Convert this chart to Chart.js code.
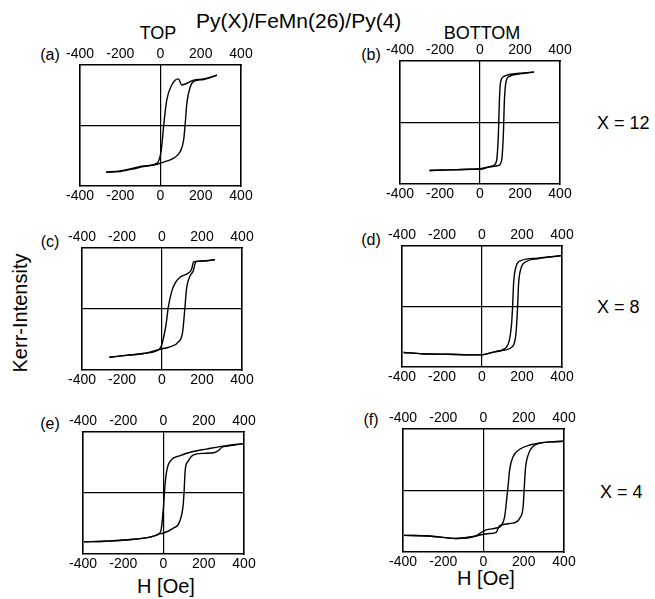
<!DOCTYPE html>
<html><head><meta charset="utf-8">
<script src="https://cdn.jsdelivr.net/npm/chart.js@4.4.1/dist/chart.umd.min.js"></script>
<style>
html,body{margin:0;padding:0;background:#fff}
body{width:655px;height:599px;position:relative;overflow:hidden;font-family:"Liberation Sans",Arial,Helvetica,sans-serif;color:#000}
.t{position:absolute;white-space:nowrap;line-height:1;transform:translate(-50%,-50%)}
.l{position:absolute;white-space:nowrap;line-height:1;transform:translate(0,-50%)}
.p{position:absolute}
</style></head><body>
<div class="l" style="left:196px;top:20px;font-size:21px">Py(X)/FeMn(26)/Py(4)</div>
<div class="t" style="left:158px;top:33px;font-size:18px">TOP</div>
<div class="t" style="left:482px;top:33px;font-size:18px">BOTTOM</div>
<div class="t" style="left:50px;top:55px;font-size:16px">(a)</div>
<div class="t" style="left:371px;top:55px;font-size:16px">(b)</div>
<div class="t" style="left:50px;top:242px;font-size:16px">(c)</div>
<div class="t" style="left:371px;top:240px;font-size:16px">(d)</div>
<div class="t" style="left:50px;top:424px;font-size:16px">(e)</div>
<div class="t" style="left:371px;top:420px;font-size:16px">(f)</div>
<div class="l" style="left:597px;top:123px;font-size:18px">X = 12</div>
<div class="l" style="left:597px;top:307px;font-size:18px">X = 8</div>
<div class="l" style="left:600px;top:492px;font-size:18px">X = 4</div>
<div class="t" style="left:20px;top:313px;font-size:20px;transform:translate(-50%,-50%) rotate(-90deg)">Kerr-Intensity</div>
<div class="t" style="left:166px;top:586px;font-size:20px">H [Oe]</div>
<div class="t" style="left:486px;top:578px;font-size:20px">H [Oe]</div>

<div class="p" id="pa"><canvas id="ca"></canvas></div>
<div class="p" id="pb"><canvas id="cb"></canvas></div>
<div class="p" id="pc"><canvas id="cc"></canvas></div>
<div class="p" id="pd"><canvas id="cd"></canvas></div>
<div class="p" id="pe"><canvas id="ce"></canvas></div>
<div class="p" id="pf"><canvas id="cf"></canvas></div>

<script>
// Field tick labels (Oe)
const hTicks = [-400, -200, 0, 200, 400];
const kerrTicks = [-1, 0, 1];

// (a) X=12, TOP
const aAscH  = [-270, -200, -140, -85, -17, 30, 65, 98, 115, 123, 131, 148, 165, 214, 280];
const aAscM  = [-0.77, -0.76, -0.72, -0.68, -0.64, -0.59, -0.54, -0.43, -0.24, 0.04, 0.37, 0.64, 0.73, 0.76, 0.83];
const aDescH = [-270, -200, -140, -85, -17, -2, 6, 17, 31, 56, 89, 106, 165, 214, 280];
const aDescM = [-0.77, -0.75, -0.71, -0.67, -0.62, -0.51, -0.35, 0.04, 0.42, 0.67, 0.77, 0.67, 0.75, 0.77, 0.83];

// (b) X=12, BOTTOM
const bAscH  = [-253, -150, -50, 0, 50, 92, 108, 117, 122, 130, 147, 200, 270];
const bAscM  = [-0.78, -0.77, -0.76, -0.76, -0.72, -0.70, -0.62, -0.18, 0.36, 0.66, 0.75, 0.79, 0.82];
const bDescH = [-253, -150, -50, 0, 50, 67, 83, 92, 97, 103, 120, 147, 200, 270];
const bDescM = [-0.78, -0.77, -0.76, -0.75, -0.72, -0.70, -0.62, -0.18, 0.36, 0.66, 0.75, 0.78, 0.80, 0.82];

// (c) X=8, TOP
const cAscH  = [-263, -180, -93, -10, 40, 82, 103, 115, 123, 140, 157, 165, 173, 220, 265];
const cAscM  = [-0.79, -0.76, -0.73, -0.66, -0.62, -0.54, -0.38, 0.04, 0.34, 0.54, 0.63, 0.74, 0.78, 0.79, 0.81];
const cDescH = [-263, -180, -93, -30, -5, 7, 20, 32, 48, 65, 90, 132, 148, 157, 173, 220, 265];
const cDescM = [-0.79, -0.76, -0.73, -0.69, -0.62, -0.48, -0.26, 0.04, 0.28, 0.42, 0.52, 0.59, 0.65, 0.77, 0.78, 0.79, 0.81];

// (d) X=8, BOTTOM
const dAscH  = [-392, -300, -172, -5, 62, 112, 153, 170, 178, 183, 195, 220, 278, 395];
const dAscM  = [-0.76, -0.78, -0.79, -0.80, -0.75, -0.72, -0.66, -0.44, 0.0, 0.38, 0.63, 0.74, 0.79, 0.84];
const dDescH = [-392, -300, -172, -5, 62, 112, 137, 148, 153, 158, 170, 195, 278, 395];
const dDescM = [-0.76, -0.78, -0.79, -0.80, -0.75, -0.70, -0.55, -0.28, 0.0, 0.38, 0.66, 0.76, 0.80, 0.84];

// (e) X=4, TOP
const eAscH  = [-395, -290, -187, -53, -20, -3, 47, 80, 97, 102, 108, 122, 147, 200, 250, 275, 290, 320, 397];
const eAscM  = [-0.80, -0.79, -0.77, -0.71, -0.67, -0.66, -0.58, -0.47, -0.22, 0.0, 0.38, 0.52, 0.62, 0.65, 0.66, 0.70, 0.75, 0.77, 0.81];
const eDescH = [-395, -290, -187, -53, -20, -12, 0, 7, 17, 38, 80, 147, 213, 280, 397];
const eDescM = [-0.80, -0.79, -0.77, -0.71, -0.66, -0.61, -0.22, 0.11, 0.38, 0.54, 0.61, 0.68, 0.72, 0.76, 0.81];

// (f) X=4, BOTTOM
const fAscH  = [-395, -270, -137, -37, -12, 30, 63, 80, 147, 180, 197, 202, 208, 222, 247, 280, 330, 397];
const fAscM  = [-0.73, -0.74, -0.78, -0.74, -0.72, -0.70, -0.68, -0.57, -0.53, -0.45, -0.26, 0.01, 0.34, 0.58, 0.72, 0.77, 0.79, 0.80];
const fDescH = [-395, -270, -137, -37, -20, 13, 63, 88, 105, 113, 122, 130, 147, 180, 230, 330, 397];
const fDescM = [-0.73, -0.74, -0.78, -0.74, -0.70, -0.64, -0.61, -0.57, -0.43, -0.21, 0.07, 0.34, 0.55, 0.67, 0.74, 0.79, 0.80];

const INK = '#000';
const PAD = {l: 22, r: 22, t: 22, b: 22};

function pts(H, M) { return H.map((h, i) => ({x: h, y: M[i]})); }

function lineDs(H, M) {
  return {data: pts(H, M), showLine: true, borderColor: INK, borderWidth: 1.4,
          pointRadius: 0, fill: false, cubicInterpolationMode: 'monotone'};
}

const zeroGrid = c => (c.tick && c.tick.value === 0) ? INK : 'rgba(0,0,0,0)';
const tickFont = {family: '"Liberation Sans", Arial, sans-serif', size: 14};
const border = {display: true, color: INK, width: 1.6};

function panel(divId, canvasId, box, asc, desc) {
  const w = box.R - box.L + PAD.l + PAD.r;
  const h = box.B - box.T + PAD.t + PAD.b;
  const div = document.getElementById(divId);
  div.style.left = (box.L - PAD.l) + 'px';
  div.style.top = (box.T - PAD.t) + 'px';
  const cv = document.getElementById(canvasId);
  cv.width = w; cv.height = h;
  cv.style.width = w + 'px'; cv.style.height = h + 'px';
  const hAxis = (pos, main) => ({
    type: 'linear', position: pos, min: -400, max: 400,
    afterBuildTicks: s => { s.ticks = hTicks.map(v => ({value: v})); },
    ticks: {padding: 2, font: tickFont, color: INK, maxRotation: 0, autoSkip: false, callback: v => String(v)},
    grid: main ? {drawTicks: false, color: zeroGrid, lineWidth: 1.2} : {drawTicks: false, drawOnChartArea: false},
    border: border,
    afterFit: s => { s.height = pos === 'top' ? PAD.t : PAD.b; }
  });
  const kAxis = (pos, main) => ({
    type: 'linear', position: pos, min: -1, max: 1,
    afterBuildTicks: s => { s.ticks = kerrTicks.map(v => ({value: v})); },
    ticks: {display: false},
    grid: main ? {drawTicks: false, color: zeroGrid, lineWidth: 1.2} : {drawTicks: false, drawOnChartArea: false},
    border: border,
    afterFit: s => { s.width = pos === 'left' ? PAD.l : PAD.r; }
  });
  new Chart(cv.getContext('2d'), {
    type: 'scatter',
    data: {datasets: [lineDs(asc[0], asc[1]), lineDs(desc[0], desc[1])]},
    options: {
      responsive: false, animation: false, devicePixelRatio: 1,
      layout: {padding: 0},
      plugins: {legend: {display: false}, tooltip: {enabled: false}},
      scales: {
        x: hAxis('bottom', true),
        x2: hAxis('top', false),
        y: kAxis('left', true),
        y2: kAxis('right', false)
      }
    }
  });
}

panel('pa', 'ca', {L: 80, R: 241, T: 65, B: 186}, [aAscH, aAscM], [aDescH, aDescM]);
panel('pb', 'cb', {L: 400, R: 560, T: 61, B: 184}, [bAscH, bAscM], [bDescH, bDescM]);
panel('pc', 'cc', {L: 82, R: 242, T: 248, B: 370}, [cAscH, cAscM], [cDescH, cDescM]);
panel('pd', 'cd', {L: 402, R: 562, T: 246, B: 367}, [dAscH, dAscM], [dDescH, dDescM]);
panel('pe', 'ce', {L: 83, R: 244, T: 432, B: 554}, [eAscH, eAscM], [eDescH, eDescM]);
panel('pf', 'cf', {L: 403, R: 564, T: 429, B: 552}, [fAscH, fAscM], [fDescH, fDescM]);
</script>
</body></html>
